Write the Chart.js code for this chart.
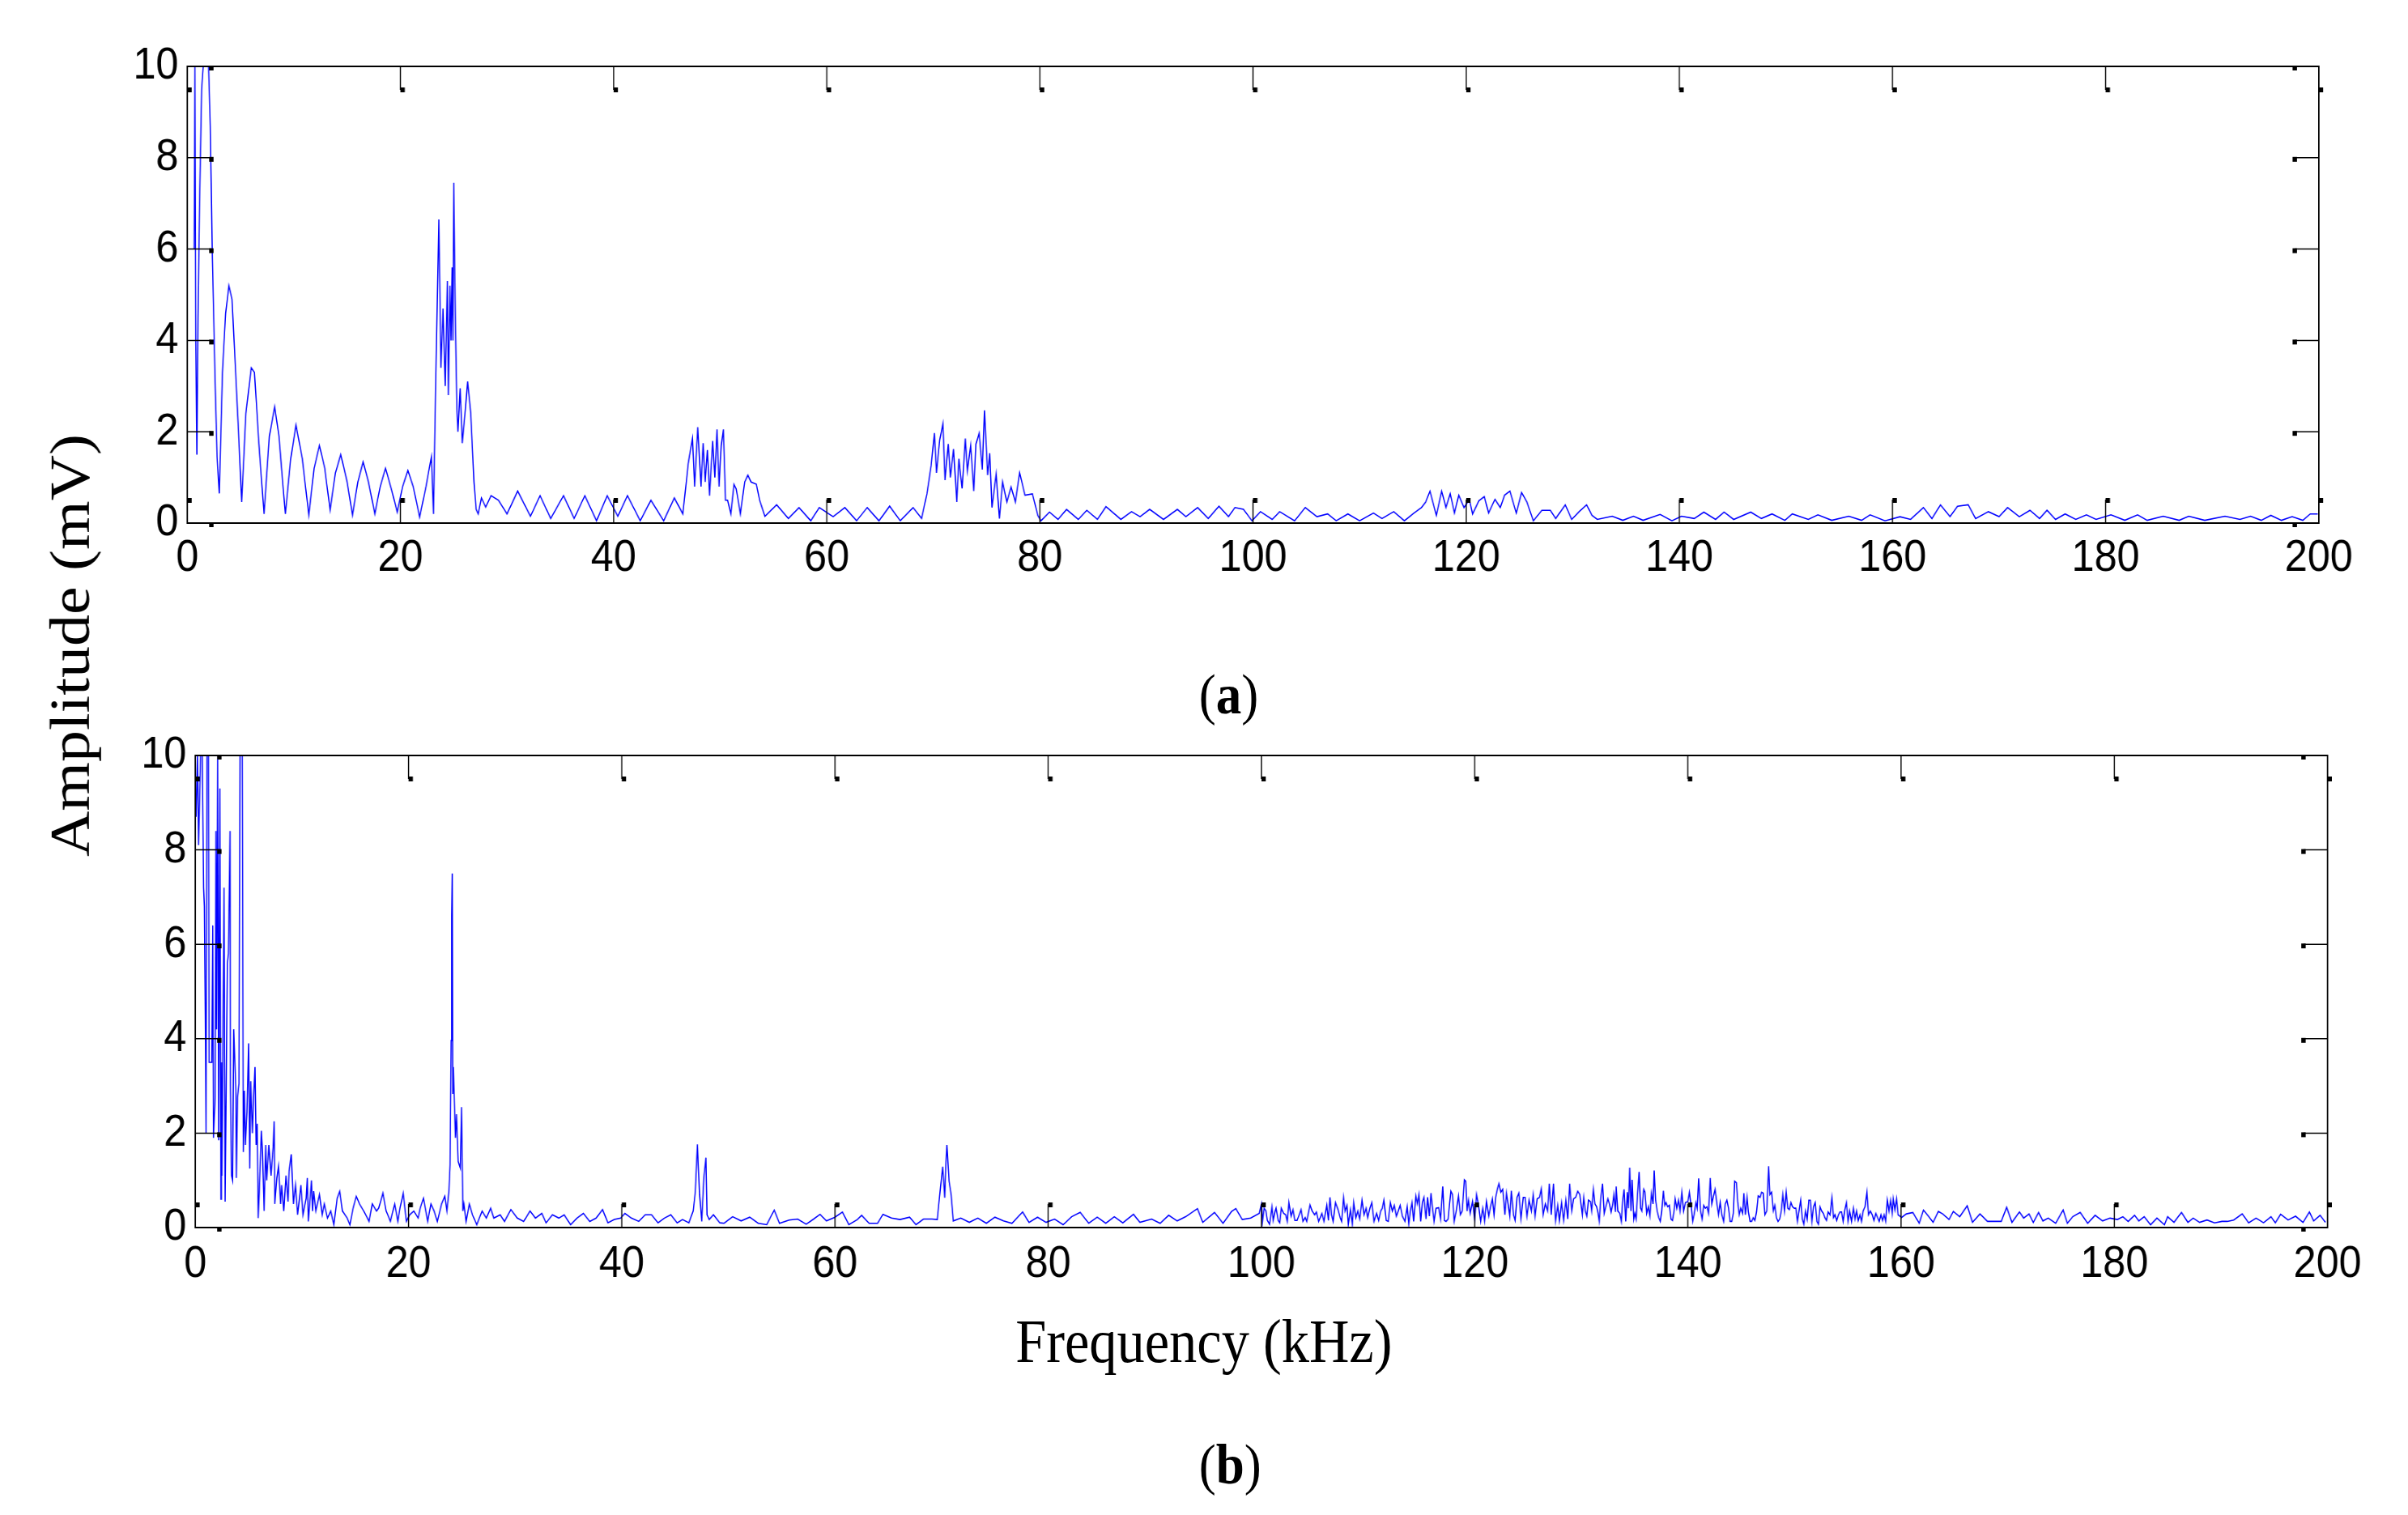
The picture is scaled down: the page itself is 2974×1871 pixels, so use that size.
<!DOCTYPE html>
<html lang="en">
<head>
    <meta charset="UTF-8">
    <title>Amplitude spectra (a) and (b)</title>
    <script src="https://cdn.jsdelivr.net/npm/chart.js"></script>
    <style>
        html, body {
            margin: 0;
            padding: 0;
            background: #fff;
            overflow: hidden;
        }
        body {
            width: 2974px;
            height: 1871px;
            position: relative;
        }
        /* the original figure is squeezed a little horizontally */
        .page {
            position: absolute;
            left: 0;
            top: 0;
            width: 3305px;
            height: 1871px;
            transform: scaleX(0.9);
            transform-origin: 0 0;
        }
        .chart-box {
            position: absolute;
            left: 0;
            width: 3305px;
        }
        .label {
            position: absolute;
            font-family: "Liberation Serif", "Times New Roman", serif;
            color: #000;
            white-space: nowrap;
            text-align: center;
        }
    </style>
</head>
<body>
<div class="page">
    <div class="chart-box" style="top:0;height:760px;"><canvas id="spectrumA"></canvas></div>
    <div class="chart-box" style="top:850px;height:1021px;"><canvas id="spectrumB"></canvas></div>

    <div class="label" style="left:-304px;top:758px;width:800px;height:78px;font-size:78px;line-height:78px;transform:rotate(-90deg);">Amplitude (mV)</div>
    <div class="label" style="left:1586px;top:823px;width:200px;font-size:70px;line-height:70px;">(<b>a</b>)</div>
    <div class="label" style="left:1352px;top:1618px;width:600px;font-size:76px;line-height:76px;">Frequency (kHz)</div>
    <div class="label" style="left:1588px;top:1774px;width:200px;font-size:70px;line-height:70px;">(<b>b</b>)</div>
</div>

<script>
    // tick values
    const xTicks = [0, 20, 40, 60, 80, 100, 120, 140, 160, 180, 200];
    const yTicks = [0, 2, 4, 6, 8, 10];

    // (a) frequency (kHz) / amplitude (mV)
    const freqA = [0.65, 0.72, 0.8, 0.9, 1.0, 1.15, 1.35, 1.5, 1.7, 2.0, 2.16, 2.35, 2.6, 2.8, 3.0, 3.3, 3.6, 3.9, 4.2, 4.5,
        4.8, 5.1, 5.5, 6.0, 6.3, 6.7, 7.2, 7.7, 8.2, 8.6, 9.2, 9.7, 10.2, 10.8, 11.4, 11.9, 12.4, 12.9, 13.4, 13.9,
        14.4, 15.0, 15.5, 16.0, 16.5, 17.0, 17.6, 18.1, 18.6, 19.2, 19.7, 20.2, 20.7, 21.2, 21.8, 22.4, 22.9, 23.1, 23.3, 23.6,
        23.8, 24.0, 24.2, 24.4, 24.5, 24.65, 24.75, 24.85, 24.92, 25.0, 25.15, 25.3, 25.4, 25.6, 25.8, 26.1, 26.3, 26.6, 26.9, 27.1,
        27.3, 27.6, 28.0, 28.5, 29.2, 30.0, 31.0, 32.2, 33.1, 34.1, 35.3, 36.3, 37.3, 38.4, 39.4, 40.4, 41.3, 42.5, 43.5, 44.7,
        45.7, 46.5, 47.0, 47.4, 47.6, 47.9, 48.2, 48.4, 48.6, 48.8, 49.0, 49.3, 49.5, 49.7, 49.9, 50.1, 50.3, 50.5, 50.7, 51.0,
        51.3, 51.5, 51.9, 52.3, 52.6, 52.9, 53.4, 53.7, 54.2, 55.3, 56.4, 57.4, 58.5, 59.3, 60.6, 61.7, 62.8, 63.8, 64.9, 65.9,
        66.9, 68.1, 68.9, 69.4, 69.8, 70.1, 70.3, 70.6, 70.9, 71.1, 71.4, 71.6, 71.9, 72.2, 72.4, 72.7, 73.0, 73.2, 73.5, 73.8,
        74.0, 74.3, 74.6, 74.8, 75.1, 75.3, 75.5, 75.9, 76.2, 76.5, 76.9, 77.3, 77.7, 78.1, 78.6, 79.3, 79.8, 80.1, 80.9, 81.7,
        82.5, 83.6, 84.4, 85.4, 86.2, 87.6, 88.6, 89.4, 90.3, 91.6, 92.9, 93.7, 94.8, 95.8, 96.8, 97.7, 98.3, 99.1, 99.9, 100.7,
        101.8, 102.5, 103.9, 104.9, 106.0, 107.0, 107.8, 108.9, 110.0, 111.3, 112.1, 113.2, 114.2, 115.1, 115.8, 116.2, 116.6, 117.2, 117.7, 118.1,
        118.5, 118.9, 119.3, 119.8, 120.3, 120.6, 121.2, 121.7, 122.1, 122.7, 123.2, 123.6, 124.1, 124.7, 125.2, 125.7, 126.3, 127.1, 127.9, 128.4,
        129.3, 129.9, 130.6, 131.3, 131.8, 132.3, 133.7, 134.7, 135.7, 136.6, 138.2, 139.3, 140.2, 141.4, 142.3, 143.4, 144.2, 145.1, 146.7, 147.7,
        148.7, 149.9, 150.6, 152.1, 153.0, 154.3, 155.9, 157.1, 157.9, 159.3, 160.7, 161.7, 162.9, 163.7, 164.5, 165.4, 166.1, 167.1, 167.8, 169.0,
        170.0, 170.8, 171.9, 172.9, 173.8, 174.5, 175.3, 176.2, 177.2, 178.2, 179.1, 180.5, 181.8, 183.0, 183.9, 185.4, 186.9, 187.8, 189.3, 191.2,
        192.6, 193.6, 194.6, 195.5, 196.5, 197.5, 198.5, 199.2, 199.9];
    const ampA = [6.0, 10, 4.0, 1.5, 4.5, 7.0, 9.5, 10, 10, 10, 8.7, 5.8, 3.2, 1.45, 0.65, 3.3, 4.6, 5.2, 4.9, 3.45,
        2.05, 0.46, 2.4, 3.4, 3.3, 1.8, 0.2, 1.9, 2.55, 1.9, 0.2, 1.4, 2.15, 1.4, 0.17, 1.2, 1.7, 1.2, 0.28, 1.1,
        1.5, 0.9, 0.17, 0.9, 1.34, 0.9, 0.2, 0.8, 1.2, 0.7, 0.24, 0.8, 1.15, 0.8, 0.13, 0.8, 1.45, 0.2, 2.9, 6.65,
        3.4, 4.7, 3.0, 5.3, 2.8, 5.2, 4.0, 5.6, 4.0, 7.45, 4.5, 2.5, 2.0, 2.95, 1.75, 2.5, 3.1, 2.4, 0.9, 0.3,
        0.2, 0.55, 0.35, 0.6, 0.5, 0.2, 0.7, 0.15, 0.6, 0.1, 0.6, 0.1, 0.6, 0.05, 0.6, 0.15, 0.6, 0.05, 0.5, 0.05,
        0.55, 0.2, 1.3, 1.85, 0.8, 2.1, 0.8, 1.75, 0.9, 1.6, 0.6, 1.8, 1.0, 2.05, 0.8, 1.7, 2.05, 0.5, 0.5, 0.2,
        0.85, 0.75, 0.2, 0.9, 1.05, 0.9, 0.85, 0.5, 0.15, 0.4, 0.1, 0.34, 0.05, 0.34, 0.14, 0.34, 0.05, 0.34, 0.05, 0.37,
        0.05, 0.34, 0.1, 0.64, 1.26, 1.97, 1.1, 1.82, 2.18, 0.94, 1.73, 1.0, 1.62, 0.46, 1.41, 0.76, 1.85, 1.14, 1.7, 0.7,
        1.73, 1.97, 1.17, 2.47, 1.05, 1.53, 0.34, 1.08, 0.1, 0.9, 0.46, 0.79, 0.46, 1.1, 0.61, 0.64, 0.17, 0.05, 0.24, 0.08,
        0.3, 0.08, 0.28, 0.08, 0.36, 0.08, 0.25, 0.14, 0.3, 0.08, 0.3, 0.14, 0.34, 0.1, 0.37, 0.14, 0.34, 0.3, 0.05, 0.25,
        0.08, 0.25, 0.05, 0.34, 0.14, 0.2, 0.05, 0.2, 0.05, 0.22, 0.1, 0.25, 0.05, 0.22, 0.34, 0.46, 0.7, 0.17, 0.7, 0.34,
        0.64, 0.22, 0.61, 0.34, 0.52, 0.2, 0.49, 0.58, 0.22, 0.52, 0.34, 0.61, 0.7, 0.22, 0.67, 0.46, 0.05, 0.28, 0.28, 0.1,
        0.4, 0.08, 0.25, 0.4, 0.17, 0.08, 0.15, 0.06, 0.15, 0.06, 0.19, 0.05, 0.15, 0.1, 0.24, 0.08, 0.24, 0.08, 0.24, 0.1,
        0.2, 0.06, 0.2, 0.08, 0.18, 0.06, 0.15, 0.06, 0.18, 0.05, 0.14, 0.08, 0.34, 0.1, 0.4, 0.14, 0.37, 0.4, 0.1, 0.25,
        0.14, 0.34, 0.14, 0.28, 0.1, 0.28, 0.08, 0.2, 0.08, 0.18, 0.08, 0.18, 0.06, 0.18, 0.06, 0.15, 0.06, 0.15, 0.06, 0.15,
        0.08, 0.15, 0.06, 0.17, 0.06, 0.14, 0.06, 0.2, 0.2];

    // (b) frequency (kHz) / amplitude (mV), 0 - 99 kHz
    const freqBLow = [0.08, 0.2, 0.3, 0.5, 0.66, 0.78, 0.85, 0.93, 1.0, 1.09, 1.24, 1.3, 1.55, 1.63, 1.7, 1.86, 1.94, 2.0, 2.1, 2.2,
        2.3, 2.4, 2.45, 2.5, 2.7, 2.8, 3.0, 3.1, 3.26, 3.3, 3.4, 3.5, 3.6, 3.8, 3.85, 3.96, 4.1, 4.2, 4.4, 4.5,
        4.6, 4.7, 4.85, 5.0, 5.1, 5.2, 5.36, 5.5, 5.6, 5.7, 5.8, 5.9, 6.0, 6.2, 6.3, 6.45, 6.6, 6.7, 6.9, 7.1,
        7.3, 7.4, 7.46, 7.65, 7.8, 8.0, 8.1, 8.3, 8.5, 8.7, 8.8, 9.0, 9.2, 9.4, 9.6, 9.9, 10.1, 10.4, 10.5, 10.6,
        10.9, 11.0, 11.1, 11.3, 11.65, 11.9, 12.1, 12.4, 12.7, 13.0, 13.3, 13.55, 13.8, 14.25, 14.5, 14.8, 15.1, 15.4, 15.8, 16.3,
        16.6, 17.0, 17.2, 17.6, 17.9, 18.3, 18.7, 19.0, 19.2, 19.5, 19.8, 20.1, 20.5, 20.9, 21.1, 21.4, 21.8, 22.1, 22.4, 22.7,
        23.1, 23.4, 23.6, 23.8, 23.9, 24.0, 24.05, 24.1, 24.15, 24.2, 24.4, 24.5, 24.66, 24.85, 24.97, 25.1, 25.2, 25.4, 25.7, 26.0,
        26.4, 26.9, 27.3, 27.7, 28.0, 28.6, 29.0, 29.6, 30.2, 30.8, 31.4, 31.9, 32.5, 32.9, 33.5, 34.1, 34.6, 35.2, 35.8, 36.4,
        37.0, 37.6, 38.2, 38.7, 39.3, 39.9, 40.3, 40.9, 41.6, 42.2, 42.8, 43.4, 44.0, 44.6, 45.2, 45.7, 46.3, 46.7, 46.9, 47.1,
        47.3, 47.5, 47.7, 47.9, 48.0, 48.2, 48.6, 49.2, 49.6, 50.4, 51.2, 52.0, 52.8, 53.6, 54.3, 54.8, 55.7, 56.5, 57.3, 58.0,
        58.6, 59.2, 60.0, 60.7, 61.3, 62.1, 62.5, 63.2, 64.0, 64.5, 65.3, 66.1, 67.0, 67.6, 68.3, 69.1, 69.6, 69.9, 70.1, 70.3,
        70.4, 70.5, 70.7, 70.9, 71.1, 71.8, 72.6, 73.4, 74.2, 75.0, 75.8, 76.6, 77.6, 78.2, 79.0, 79.8, 80.6, 81.4, 82.2, 83.0,
        83.8, 84.6, 85.4, 86.2, 87.0, 88.0, 88.6, 89.7, 90.5, 91.3, 92.1, 92.9, 94.0, 94.5, 95.6, 96.4, 97.2, 97.6, 98.2, 99.0];
    const ampBLow = [8.7, 10, 8.1, 10, 10, 7.2, 6.8, 4.5, 2.0, 10, 10, 3.5, 3.5, 6.4, 1.9, 2.75, 8.4, 4.2, 10, 1.85,
        9.3, 0.6, 3.5, 1.1, 7.2, 0.55, 5.6, 5.8, 8.4, 3.0, 1.1, 1.0, 4.2, 2.9, 1.05, 2.75, 3.05, 10, 10, 1.6,
        2.9, 1.75, 2.45, 3.9, 1.25, 3.1, 2.0, 2.9, 3.4, 1.75, 2.2, 0.2, 0.75, 2.05, 1.6, 0.35, 1.75, 1.0, 1.75, 1.1,
        1.7, 2.25, 0.5, 1.05, 1.3, 0.5, 0.9, 0.35, 1.1, 0.55, 1.2, 1.55, 0.5, 0.9, 0.27, 0.9, 0.27, 0.62, 1.05, 0.13,
        1.0, 0.35, 0.77, 0.35, 0.7, 0.27, 0.5, 0.2, 0.35, 0.06, 0.62, 0.77, 0.35, 0.2, 0.06, 0.41, 0.66, 0.5, 0.35, 0.13,
        0.5, 0.35, 0.41, 0.73, 0.35, 0.13, 0.5, 0.13, 0.41, 0.73, 0.13, 0.27, 0.35, 0.2, 0.41, 0.62, 0.13, 0.5, 0.35, 0.13,
        0.5, 0.66, 0.35, 0.8, 1.33, 3.96, 6.6, 7.5, 2.83, 3.4, 1.9, 2.4, 1.4, 1.26, 2.55, 0.35, 0.5, 0.13, 0.5, 0.27,
        0.06, 0.35, 0.2, 0.41, 0.2, 0.27, 0.13, 0.38, 0.2, 0.13, 0.35, 0.2, 0.3, 0.1, 0.27, 0.2, 0.27, 0.06, 0.2, 0.3,
        0.13, 0.2, 0.38, 0.1, 0.17, 0.2, 0.3, 0.2, 0.13, 0.27, 0.27, 0.1, 0.2, 0.27, 0.1, 0.17, 0.1, 0.35, 0.77, 1.76,
        0.7, 0.13, 1.05, 1.48, 0.27, 0.17, 0.27, 0.1, 0.09, 0.23, 0.14, 0.22, 0.09, 0.06, 0.37, 0.09, 0.16, 0.18, 0.07, 0.18,
        0.28, 0.14, 0.22, 0.33, 0.06, 0.17, 0.26, 0.09, 0.09, 0.28, 0.2, 0.17, 0.22, 0.06, 0.18, 0.18, 0.17, 0.86, 1.29, 0.63,
        1.32, 1.75, 0.98, 0.69, 0.14, 0.2, 0.11, 0.2, 0.09, 0.22, 0.14, 0.09, 0.33, 0.11, 0.22, 0.11, 0.18, 0.06, 0.23, 0.32,
        0.09, 0.22, 0.09, 0.23, 0.1, 0.28, 0.11, 0.18, 0.09, 0.26, 0.14, 0.23, 0.4, 0.11, 0.32, 0.09, 0.34, 0.4, 0.17, 0.2];

    // (b) 99.8 - 160 kHz, the dense band
    const freqBMid = [99.80, 100.00, 100.10, 100.25, 100.43, 100.56, 100.76, 100.99, 101.11, 101.27,
        101.37, 101.57, 101.72, 101.87, 102.08, 102.28, 102.43, 102.58, 102.78, 102.96,
        103.14, 103.34, 103.54, 103.72, 103.90, 104.10, 104.25, 104.56, 104.76, 104.99,
        105.16, 105.37, 105.67, 105.87, 106.13, 106.28, 106.43, 106.58, 106.73, 106.94,
        107.19, 107.39, 107.52, 107.70, 107.85, 108.03, 108.15, 108.35, 108.53, 108.66,
        108.86, 109.04, 109.22, 109.44, 109.62, 109.82, 109.97, 110.18, 110.35, 110.56,
        110.81, 110.99, 111.19, 111.34, 111.49, 111.70, 111.90, 112.10, 112.28, 112.46,
        112.66, 112.84, 113.01, 113.22, 113.47, 113.67, 113.82, 113.97, 114.13, 114.28,
        114.48, 114.63, 114.78, 114.94, 115.09, 115.24, 115.44, 115.59, 115.75, 115.90,
        116.05, 116.20, 116.38, 116.63, 116.81, 117.01, 117.16, 117.32, 117.52, 117.65,
        117.77, 117.92, 118.08, 118.28, 118.48, 118.66, 118.84, 119.04, 119.16, 119.29,
        119.42, 119.59, 119.80, 120.00, 120.18, 120.35, 120.56, 120.76, 120.94, 121.11,
        121.32, 121.49, 121.67, 121.82, 121.97, 122.13, 122.28, 122.46, 122.63, 122.84,
        122.99, 123.14, 123.29, 123.44, 123.65, 123.80, 123.97, 124.15, 124.35, 124.56,
        124.73, 124.91, 125.11, 125.32, 125.49, 125.67, 125.87, 126.08, 126.25, 126.43,
        126.63, 126.84, 127.01, 127.19, 127.39, 127.59, 127.80, 127.95, 128.15, 128.35,
        128.56, 128.73, 128.91, 129.11, 129.29, 129.47, 129.67, 129.87, 130.10, 130.23,
        130.38, 130.53, 130.68, 130.86, 130.98, 131.14, 131.29, 131.44, 131.57, 131.69,
        131.84, 132.00, 132.15, 132.30, 132.50, 132.65, 132.80, 132.95, 133.06, 133.21,
        133.28, 133.43, 133.61, 133.76, 133.89, 134.02, 134.17, 134.32, 134.42, 134.55,
        134.67, 134.77, 134.92, 135.03, 135.15, 135.28, 135.43, 135.56, 135.68, 135.86,
        135.98, 136.14, 136.29, 136.44, 136.59, 136.74, 136.84, 136.97, 137.12, 137.27,
        137.42, 137.55, 137.70, 137.83, 137.95, 138.11, 138.26, 138.41, 138.56, 138.71,
        138.81, 138.96, 139.12, 139.27, 139.44, 139.60, 139.77, 140.00, 140.15, 140.33,
        140.45, 140.58, 140.76, 140.88, 141.01, 141.19, 141.34, 141.49, 141.64, 141.79,
        141.94, 142.10, 142.25, 142.40, 142.55, 142.73, 142.88, 143.03, 143.18, 143.36,
        143.51, 143.66, 143.81, 143.96, 144.12, 144.27, 144.39, 144.55, 144.67, 144.82,
        144.97, 145.13, 145.25, 145.40, 145.56, 145.68, 145.83, 145.98, 146.14, 146.29,
        146.44, 146.59, 146.77, 146.92, 147.07, 147.22, 147.40, 147.58, 147.70, 147.85,
        148.01, 148.16, 148.31, 148.46, 148.61, 148.76, 148.91, 149.07, 149.22, 149.37,
        149.52, 149.67, 149.82, 149.97, 150.13, 150.28, 150.43, 150.58, 150.73, 150.88,
        151.04, 151.19, 151.34, 151.49, 151.64, 151.79, 151.94, 152.10, 152.25, 152.40,
        152.55, 152.70, 152.85, 153.01, 153.16, 153.33, 153.51, 153.66, 153.81, 153.96,
        154.12, 154.27, 154.42, 154.57, 154.72, 154.87, 155.03, 155.18, 155.35, 155.53,
        155.68, 155.83, 155.98, 156.14, 156.29, 156.44, 156.62, 156.79, 156.94, 157.12,
        157.30, 157.45, 157.63, 157.80, 157.95, 158.11, 158.26, 158.41, 158.56, 158.71,
        158.86, 159.02, 159.17, 159.27, 159.42, 159.57, 159.72, 159.90, 160.03];
    const ampBMid = [0.30, 0.50, 0.13, 0.41, 0.35, 0.15, 0.07, 0.44, 0.15, 0.33,
        0.41, 0.15, 0.10, 0.41, 0.30, 0.27, 0.13, 0.53, 0.24, 0.38,
        0.15, 0.15, 0.27, 0.38, 0.13, 0.21, 0.13, 0.48, 0.35, 0.27,
        0.33, 0.13, 0.30, 0.13, 0.47, 0.15, 0.64, 0.27, 0.13, 0.53,
        0.38, 0.21, 0.13, 0.64, 0.35, 0.47, 0.07, 0.38, 0.07, 0.53,
        0.21, 0.35, 0.18, 0.58, 0.27, 0.41, 0.21, 0.41, 0.53, 0.13,
        0.30, 0.15, 0.35, 0.41, 0.58, 0.15, 0.13, 0.53, 0.35, 0.47,
        0.24, 0.35, 0.47, 0.24, 0.13, 0.44, 0.07, 0.35, 0.53, 0.13,
        0.67, 0.50, 0.70, 0.13, 0.53, 0.64, 0.18, 0.64, 0.24, 0.73,
        0.41, 0.13, 0.41, 0.42, 0.18, 0.87, 0.15, 0.13, 0.18, 0.50,
        0.77, 0.70, 0.13, 0.35, 0.67, 0.27, 0.35, 1.01, 0.98, 0.35,
        0.58, 0.30, 0.55, 0.15, 0.70, 0.50, 0.13, 0.41, 0.13, 0.55,
        0.24, 0.44, 0.61, 0.27, 0.64, 0.81, 0.93, 0.75, 0.81, 0.27,
        0.73, 0.50, 0.24, 0.78, 0.27, 0.15, 0.64, 0.73, 0.18, 0.64,
        0.64, 0.24, 0.58, 0.35, 0.70, 0.24, 0.61, 0.64, 0.82, 0.27,
        0.50, 0.35, 0.93, 0.27, 0.93, 0.14, 0.47, 0.15, 0.53, 0.15,
        0.58, 0.18, 0.93, 0.35, 0.61, 0.64, 0.77, 0.70, 0.27, 0.64,
        0.35, 0.24, 0.58, 0.55, 0.35, 0.81, 0.50, 0.44, 0.30, 0.13,
        0.64, 0.93, 0.30, 0.44, 0.61, 0.50, 0.33, 0.50, 0.70, 0.33,
        0.87, 0.35, 0.30, 0.13, 0.58, 0.81, 0.13, 0.75, 0.41, 1.27,
        0.35, 1.01, 0.18, 0.30, 0.18, 0.70, 1.18, 0.41, 0.35, 0.81,
        0.75, 0.30, 0.44, 0.24, 0.73, 0.50, 1.21, 0.58, 0.35, 0.21,
        0.13, 0.35, 0.78, 0.47, 0.53, 0.44, 0.47, 0.18, 0.15, 0.35,
        0.61, 0.41, 0.58, 0.35, 0.75, 0.35, 0.53, 0.55, 0.75, 0.41,
        0.13, 0.27, 0.53, 0.41, 1.04, 0.35, 0.18, 0.47, 0.41, 0.44,
        0.30, 1.05, 0.50, 0.67, 0.81, 0.50, 0.27, 0.53, 0.27, 0.13,
        0.50, 0.58, 0.41, 0.13, 0.13, 0.30, 0.98, 0.95, 0.55, 0.27,
        0.41, 0.30, 0.73, 0.27, 0.64, 0.33, 0.13, 0.13, 0.21, 0.15,
        0.33, 0.67, 0.64, 0.75, 0.73, 0.27, 0.35, 1.30, 0.70, 0.75,
        0.35, 0.47, 0.21, 0.13, 0.18, 0.35, 0.70, 0.35, 0.75, 0.41,
        0.38, 0.53, 0.44, 0.41, 0.41, 0.13, 0.35, 0.58, 0.18, 0.07,
        0.35, 0.18, 0.58, 0.58, 0.13, 0.44, 0.53, 0.13, 0.07, 0.44,
        0.35, 0.30, 0.21, 0.15, 0.33, 0.27, 0.64, 0.21, 0.27, 0.15,
        0.27, 0.33, 0.33, 0.13, 0.38, 0.53, 0.13, 0.35, 0.13, 0.41,
        0.18, 0.35, 0.15, 0.27, 0.13, 0.35, 0.44, 0.75, 0.27, 0.35,
        0.27, 0.15, 0.30, 0.21, 0.13, 0.27, 0.15, 0.27, 0.13, 0.58,
        0.35, 0.58, 0.30, 0.61, 0.38, 0.61, 0.27, 0.24, 0.21];

    // (b) 160.5 - 200 kHz
    const freqBHigh = [160.5, 161.1, 161.7, 162.1, 162.6, 163.0, 163.5, 163.9, 164.5, 164.9,
        165.5, 166.2, 166.7, 167.4, 168.1, 168.8, 169.4, 169.9, 170.4, 171.1,
        171.5, 172.0, 172.4, 172.9, 173.3, 173.8, 174.5, 175.2, 175.6, 176.1,
        176.8, 177.5, 178.2, 178.9, 179.6, 180.3, 180.8, 181.3, 181.9, 182.3,
        182.8, 183.4, 184.0, 184.7, 185.0, 185.6, 186.3, 186.9, 187.4, 188.0,
        188.7, 189.4, 190.1, 190.6, 191.2, 192.0, 192.6, 193.3, 194.0, 194.7,
        195.1, 195.6, 196.3, 197.0, 197.7, 198.3, 198.7, 199.3, 199.8];
    const ampBHigh = [0.29, 0.32, 0.09, 0.37, 0.23, 0.11, 0.34, 0.29, 0.17, 0.34,
        0.23, 0.46, 0.11, 0.29, 0.13, 0.13, 0.13, 0.43, 0.11, 0.33,
        0.2, 0.29, 0.11, 0.32, 0.14, 0.2, 0.09, 0.37, 0.09, 0.23,
        0.32, 0.09, 0.26, 0.14, 0.2, 0.17, 0.23, 0.13, 0.26, 0.14,
        0.23, 0.06, 0.2, 0.06, 0.23, 0.11, 0.32, 0.11, 0.2, 0.11,
        0.16, 0.1, 0.13, 0.13, 0.16, 0.29, 0.1, 0.2, 0.1, 0.23,
        0.1, 0.28, 0.16, 0.24, 0.11, 0.33, 0.14, 0.26, 0.11];

    const freqB = freqBLow.concat(freqBMid, freqBHigh);
    const ampB = ampBLow.concat(ampBMid, ampBHigh);

    // MATLAB-like box: frame plus inward ticks on all four sides
    const boxTicks = {
        id: 'boxTicks',
        afterDraw(chart) {
            const {ctx, chartArea: a, scales} = chart;
            const lenX = 29, lenY = 33, sq = 6;
            ctx.save();
            ctx.strokeStyle = '#000';
            ctx.fillStyle = '#000';
            ctx.lineWidth = 1.5;
            ctx.beginPath();
            xTicks.forEach(v => {
                const px = scales.x.getPixelForValue(v);
                ctx.moveTo(px, a.bottom); ctx.lineTo(px, a.bottom - lenX);
                ctx.moveTo(px, a.top); ctx.lineTo(px, a.top + lenX);
            });
            yTicks.forEach(v => {
                const py = scales.y.getPixelForValue(v);
                ctx.moveTo(a.left, py); ctx.lineTo(a.left + lenY, py);
                ctx.moveTo(a.right, py); ctx.lineTo(a.right - lenY, py);
            });
            ctx.stroke();
            xTicks.forEach(v => {
                const px = scales.x.getPixelForValue(v);
                ctx.fillRect(px, a.bottom - lenX - 2, sq, sq);
                ctx.fillRect(px, a.top + lenX - 3, sq, sq);
            });
            yTicks.forEach(v => {
                const py = scales.y.getPixelForValue(v);
                ctx.fillRect(a.left + lenY - 3, py - 1, sq, sq);
                ctx.fillRect(a.right - lenY - 3, py - 1, sq, sq);
            });
            ctx.lineWidth = 2;
            ctx.strokeRect(a.left, a.top, a.right - a.left, a.bottom - a.top);
            ctx.restore();
        }
    };

    function makeSpectrum(id, freq, amp, box) {
        const ctx = document.getElementById(id).getContext('2d');
        return new Chart(ctx, {
            type: 'line',
            data: {
                datasets: [{
                    data: freq.map((f, i) => ({x: f, y: amp[i]})),
                    borderColor: '#0000ff',
                    borderWidth: 1.6,
                    pointRadius: 0,
                    tension: 0,
                    fill: false
                }]
            },
            options: {
                responsive: true,
                maintainAspectRatio: false,
                animation: false,
                layout: {
                    padding: {left: 0, top: box.top, right: box.right, bottom: 0}
                },
                plugins: {
                    legend: {display: false},
                    tooltip: {enabled: false}
                },
                scales: {
                    x: {
                        type: 'linear',
                        min: 0,
                        max: 200,
                        grid: {display: false, drawTicks: false},
                        border: {display: false},
                        afterBuildTicks: s => { s.ticks = xTicks.map(v => ({value: v})); },
                        afterFit: s => { s.height = box.xHeight; },
                        ticks: {
                            color: '#000',
                            padding: box.xPad,
                            maxRotation: 0,
                            autoSkip: false,
                            font: {family: '"Liberation Sans", Arial, sans-serif', size: 56}
                        }
                    },
                    y: {
                        min: 0,
                        max: 10,
                        grid: {display: false, drawTicks: false},
                        border: {display: false},
                        afterBuildTicks: s => { s.ticks = yTicks.map(v => ({value: v})); },
                        afterFit: s => { s.width = box.yWidth; },
                        ticks: {
                            color: '#000',
                            padding: 12,
                            font: {family: '"Liberation Sans", Arial, sans-serif', size: 56}
                        }
                    }
                }
            },
            plugins: [boxTicks]
        });
    }

    makeSpectrum('spectrumA', freqA, ampA, {top: 82, right: 123, yWidth: 257, xHeight: 114, xPad: 10});
    makeSpectrum('spectrumB', freqB, ampB, {top: 83, right: 111, yWidth: 268, xHeight: 355, xPad: 12});
</script>
</body>
</html>
